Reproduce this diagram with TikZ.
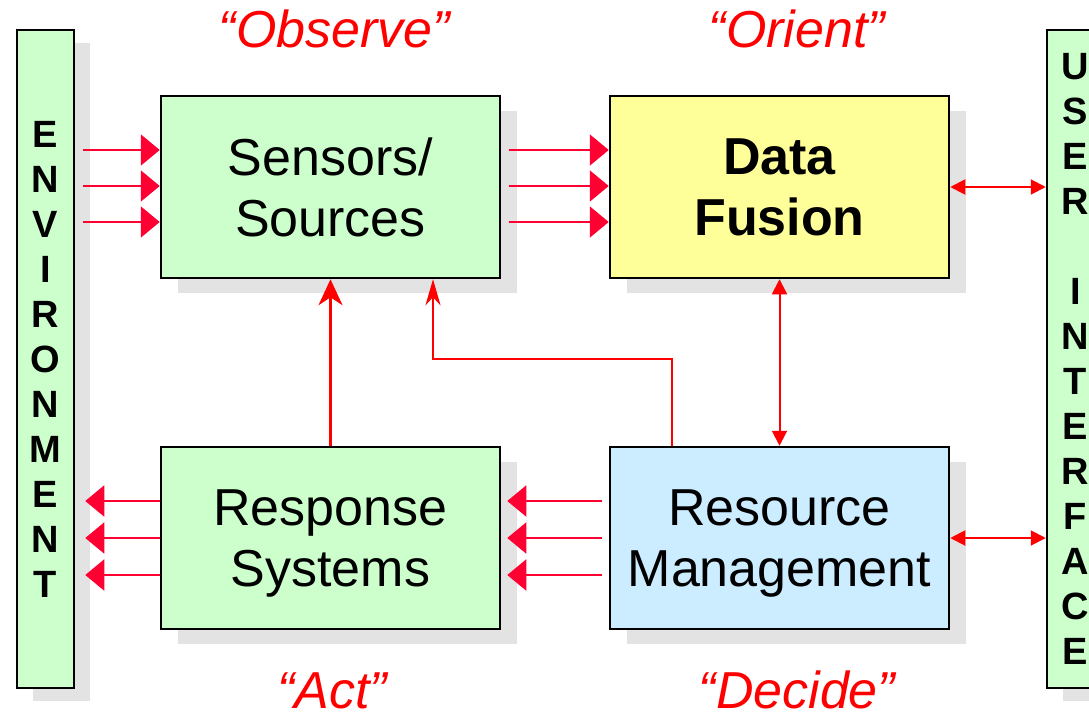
\documentclass[tikz,border=0pt]{standalone}
\usepackage{fontspec}
\setmainfont{Liberation Sans}
\usetikzlibrary{arrows.meta,shadows}
\definecolor{boxgreen}{HTML}{CCFFCC}
\definecolor{boxyellow}{HTML}{FFFF99}
\definecolor{boxblue}{HTML}{CCECFF}
\definecolor{shade}{HTML}{E3E3E3}
\definecolor{arrred}{HTML}{FF0033}
\begin{document}
\begin{tikzpicture}[x=1pt,y=-1pt,
  box/.style={draw=black,line width=2.5pt,minimum width=339pt,minimum height=182pt,align=center,
    text depth=0pt,font=\fontsize{52}{61}\selectfont,
    drop shadow={shadow xshift=17pt,shadow yshift=-15pt,fill=shade,opacity=1}},
  bar/.style={draw=black,line width=2.5pt,fill=boxgreen,minimum width=57pt,minimum height=658pt,align=center,
    font=\fontsize{38}{45}\selectfont\bfseries,
    drop shadow={shadow xshift=16pt,shadow yshift=-13pt,fill=shade,opacity=1}},
  phase/.style={text=red,anchor=base,font=\fontsize{52}{60}\selectfont\itshape},
  tri/.style={arrred,line width=2pt,-{Triangle[length=19pt,width=31pt]}},
  lnk/.style={red,line width=2pt,{Triangle[length=15pt,width=15pt]}-{Triangle[length=15pt,width=15pt]}},
  up/.style={red,line width=2.5pt,-{Stealth[length=26pt,width=24pt,inset=8pt]}},
  fbk/.style={red,line width=2.5pt,-{Stealth[length=26pt,width=15pt,inset=8pt]}}]
\useasboundingbox (0,0) rectangle (1089,718);
\node[bar] (env) at (45.5,359) {E\\N\\V\\I\\R\\O\\N\\M\\E\\N\\T};
\node[bar] (ui) at (1075.5,359) {U\\S\\E\\R\\\mbox{}\\I\\N\\T\\E\\R\\F\\A\\C\\E};
\node[box,fill=boxgreen] (ss) at (330.5,187) {Sensors/\\Sources};
\node[box,fill=boxyellow,font=\fontsize{52}{61}\selectfont\bfseries] (df) at (779.5,187) {Data\\Fusion};
\node[box,fill=boxgreen] (rs) at (330.5,538) {Response\\Systems};
\node[box,fill=boxblue] (rm) at (779.5,538) {Resource\\Management};
\node[phase] (obs) at (334.5,47) {“Observe”};
\node[phase] (ori) at (797,47) {“Orient”};
\node[phase] (act) at (332,708) {“Act”};
\node[phase] (dec) at (797,708) {“Decide”};
\foreach \yy in {150,186,222}{
  \draw[tri] ([xshift=8pt]env.east |- 0,\yy) -- (ss.west |- 0,\yy);
  \draw[tri] ([xshift=8pt]ss.east |- 0,\yy) -- (df.west |- 0,\yy);
}
\foreach \yy in {501,538,575}{
  \draw[tri] ([xshift=-7pt]rm.west |- 0,\yy) -- ([xshift=6pt]rs.east |- 0,\yy);
  \draw[tri] (rs.west |- 0,\yy) -- ([xshift=10pt]env.east |- 0,\yy);
}
\draw[up] (rs.north) -- (ss.south);
\coordinate (fb) at (433,359);
\draw[fbk] ([xshift=63pt]rm.north west) |- (fb) -- (fb |- ss.south);
\draw[lnk] (df.south) -- (rm.north);
\draw[lnk] (df.east) -- (ui.west |- df.east);
\draw[lnk] (rm.east) -- (ui.west |- rm.east);
\end{tikzpicture}
\end{document}
